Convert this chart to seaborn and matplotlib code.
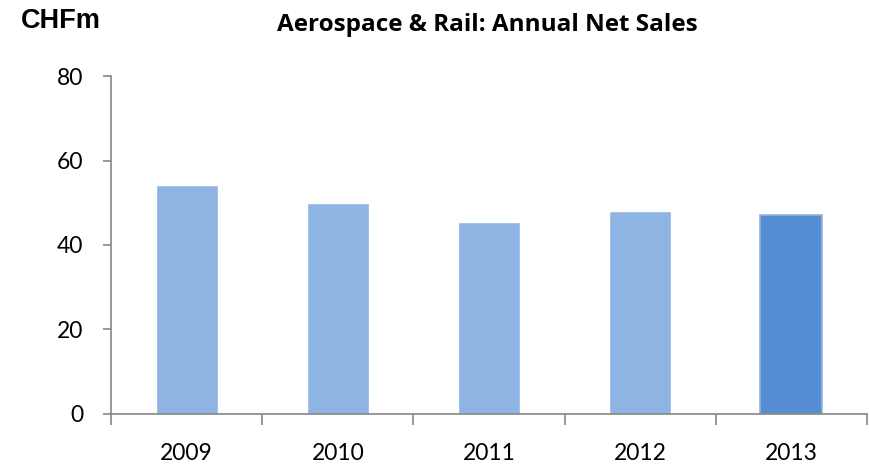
import matplotlib
matplotlib.use("Agg")
import matplotlib.pyplot as plt
import seaborn as sns
import pandas as pd
from matplotlib.ticker import FixedLocator

years = ["2009", "2010", "2011", "2012", "2013"]
net_sales = [54.2, 50.0, 45.4, 48.1, 47.1]
y_ticks = [0, 20, 40, 60, 80]

sns.set_style("white")
plt.rcParams["font.family"] = ["Lato", "DejaVu Sans"]
plt.rcParams["text.color"] = "black"
plt.rcParams["xtick.color"] = "black"
plt.rcParams["ytick.color"] = "black"

df = pd.DataFrame({"year": years, "sales": net_sales})
palette = ["#8EB4E3"] * 4 + ["#558ED5"]

fig = plt.figure(figsize=(8.69, 4.66), dpi=100)
ax = fig.add_axes([0.1277, 0.1116, 0.870, 0.7253])

sns.barplot(data=df, x="year", y="sales", hue="year", palette=palette,
            legend=False, width=0.41, ax=ax, saturation=1)

# lighter outline around the latest year's bar
ax.patches[-1].set_edgecolor("#95B3D7")
ax.patches[-1].set_linewidth(1.2)

ax.set_ylim(0, 80)
ax.set_xlim(-0.5, 4.5)
ax.set_yticks(y_ticks)
ax.set_xlabel("")
ax.set_ylabel("")

for side in ["top", "right"]:
    ax.spines[side].set_visible(False)
for side in ["left", "bottom"]:
    ax.spines[side].set_color("#868686")
    ax.spines[side].set_linewidth(1.2)

ax.tick_params(axis="y", which="major", direction="out", length=6, width=1.2,
               color="#868686", labelcolor="black", labelsize=16.5, pad=14,
               left=True)
ax.tick_params(axis="x", which="major", length=0, labelcolor="black",
               labelsize=16.5, pad=21)
ax.xaxis.set_minor_locator(FixedLocator([-0.5, 0.5, 1.5, 2.5, 3.5, 4.5]))
ax.tick_params(axis="x", which="minor", direction="out", length=8, width=1.2,
               color="#868686", bottom=True)

fig.text(0.024, 0.94, "CHFm", fontsize=19.5, fontweight="bold", ha="left",
         va="baseline", family=["Liberation Sans", "DejaVu Sans"])
fig.text(0.561, 0.9335, "Aerospace & Rail: Annual Net Sales", fontsize=17.5,
         fontweight="bold", ha="center", va="baseline",
         family=["Open Sans", "DejaVu Sans"])

fig.savefig("out.png", dpi=100)
